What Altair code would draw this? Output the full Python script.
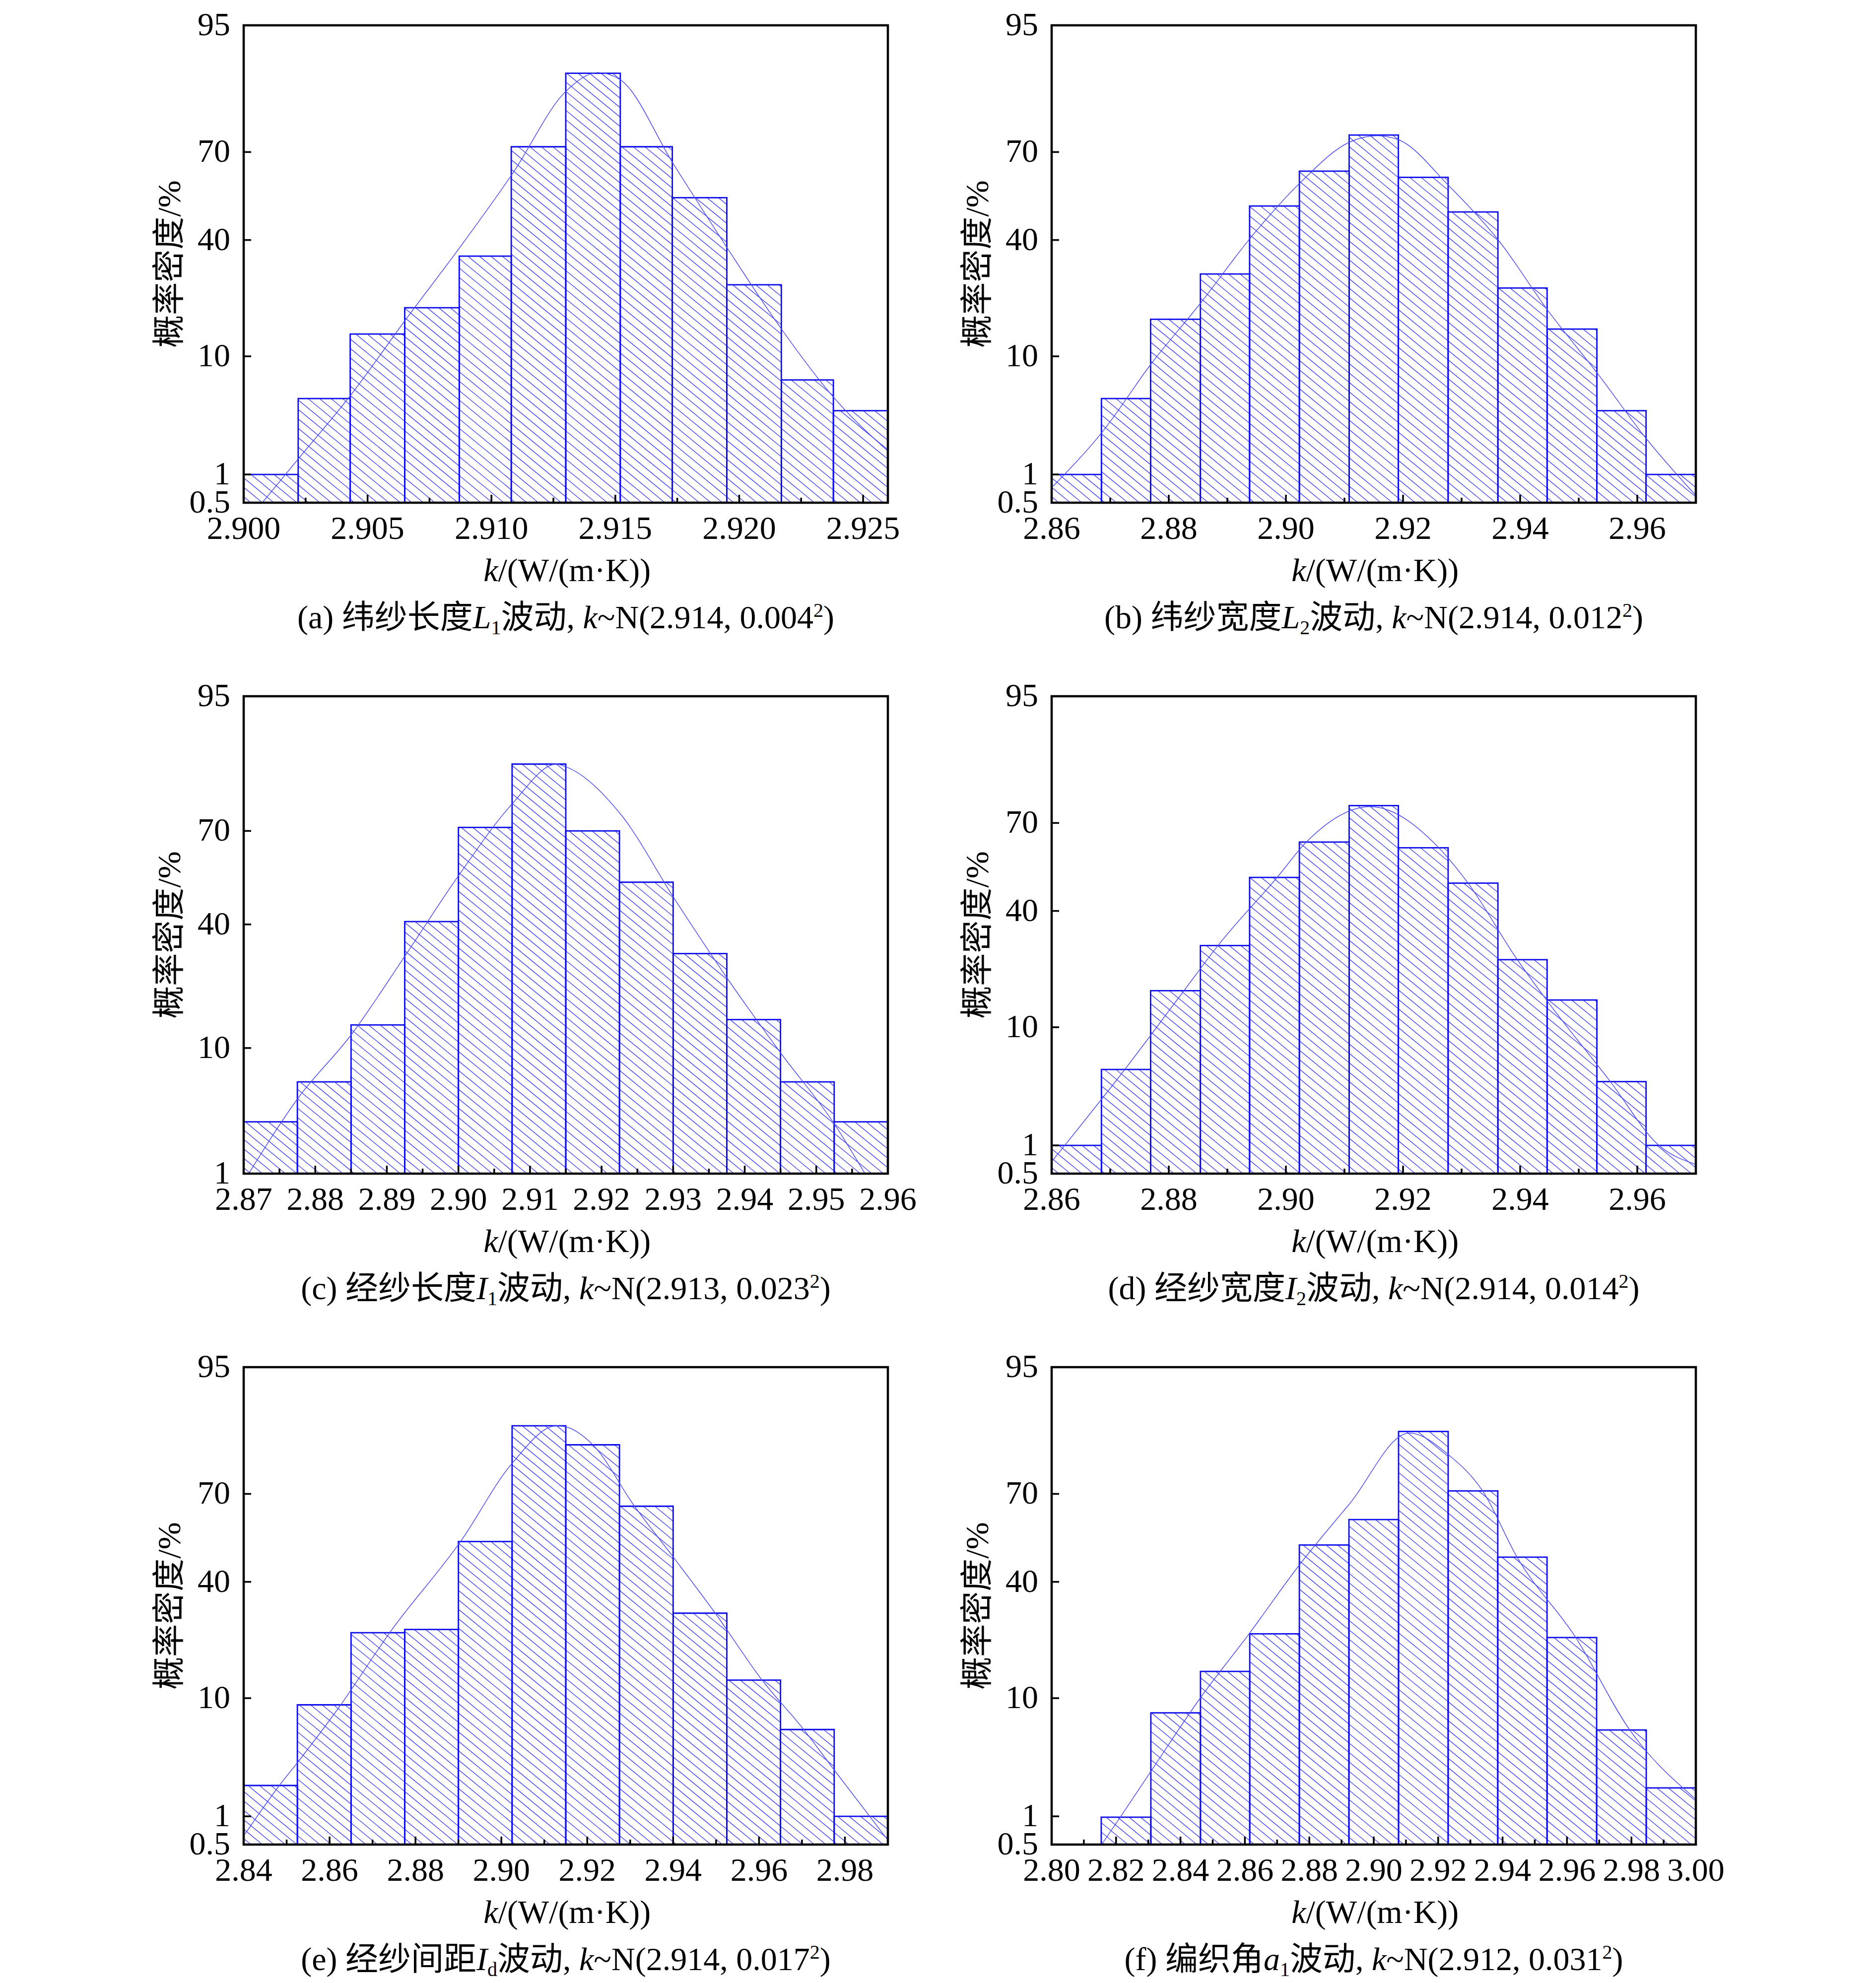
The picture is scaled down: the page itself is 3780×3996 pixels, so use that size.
import altair as alt
import pandas as pd
from statistics import NormalDist

alt.data_transformers.disable_max_rows()
ND = NormalDist()

# ---------------- data ----------------
# (a)
a_edges = [2.9000, 2.9022, 2.9043, 2.9065, 2.9087, 2.9108, 2.9130, 2.9152, 2.9173, 2.9195, 2.9217, 2.9238, 2.9260]
a_density = [1.0, 4.9, 13.9, 19.7, 34.6, 71.6, 88.9, 71.6, 54.8, 25.8, 6.8, 3.9]
a_fit_k = [2.90075, 2.90217, 2.90435, 2.90652, 2.90868, 2.91087, 2.91301, 2.91430, 2.91519, 2.91736, 2.91954, 2.92169, 2.92385, 2.92600]
a_fit_p = [0.5, 1.4, 5.3, 16.8, 37.0, 63.3, 85.6, 89.0, 87.8, 66.0, 37.0, 15.0, 4.9, 1.7]
a_xticks = [2.900, 2.905, 2.910, 2.915, 2.920, 2.925]
a_xminor = [2.9025, 2.9075, 2.9125, 2.9175, 2.9225]
a_xlabels = ["2.900", "2.905", "2.910", "2.915", "2.920", "2.925"]

# (b)
b_edges = [2.8600, 2.8685, 2.8769, 2.8854, 2.8938, 2.9023, 2.9108, 2.9192, 2.9277, 2.9362, 2.9446, 2.9531, 2.9615, 2.9700]
b_density = [1.0, 4.9, 17.0, 29.0, 51.9, 63.9, 75.0, 61.8, 49.8, 24.9, 14.9, 3.9, 1.0]
b_fit_k = [2.8602, 2.8685, 2.8771, 2.8855, 2.8939, 2.9024, 2.9109, 2.9156, 2.9193, 2.9278, 2.9363, 2.9447, 2.9532, 2.9616, 2.9700]
b_fit_p = [0.75, 2.5, 9.0, 21.0, 40.6, 59.9, 73.0, 74.8, 73.6, 59.0, 39.9, 19.1, 7.6, 2.2, 0.6]
b_xticks = [2.86, 2.88, 2.90, 2.92, 2.94, 2.96]
b_xminor = [2.87, 2.89, 2.91, 2.93, 2.95]
b_xlabels = ["2.86", "2.88", "2.90", "2.92", "2.94", "2.96"]

# (c)
c_edges = [2.8700, 2.8775, 2.8850, 2.8925, 2.9000, 2.9075, 2.9150, 2.9225, 2.9300, 2.9375, 2.9450, 2.9525, 2.9600]
c_density = [2.9, 5.9, 13.8, 40.9, 71.0, 86.0, 70.0, 53.9, 31.0, 14.8, 5.9, 2.9]
c_fit_k = [2.8707, 2.8775, 2.8851, 2.8925, 2.9000, 2.9075, 2.9137, 2.9150, 2.9226, 2.9301, 2.9375, 2.9451, 2.9525, 2.9568]
c_fit_p = [1.0, 4.4, 12.2, 30.2, 56.0, 77.3, 86.0, 85.5, 74.8, 48.7, 24.3, 9.2, 2.8, 1.0]
c_xticks = [2.87, 2.88, 2.89, 2.90, 2.91, 2.92, 2.93, 2.94, 2.95, 2.96]
c_xminor = [2.875, 2.885, 2.895, 2.905, 2.915, 2.925, 2.935, 2.945, 2.955]
c_xlabels = ["2.87", "2.88", "2.89", "2.90", "2.91", "2.92", "2.93", "2.94", "2.95", "2.96"]

# (d)
d_edges = [2.8600, 2.8685, 2.8769, 2.8854, 2.8938, 2.9023, 2.9108, 2.9192, 2.9277, 2.9362, 2.9446, 2.9531, 2.9615, 2.9700]
d_density = [1.0, 4.9, 16.9, 28.8, 51.7, 63.9, 75.1, 62.0, 49.7, 24.7, 14.9, 3.9, 1.0]
d_fit_k = [2.8602, 2.8725, 2.8826, 2.8884, 2.8985, 2.9035, 2.9144, 2.9261, 2.9311, 2.9395, 2.9445, 2.9554, 2.9637, 2.9700]
d_fit_p = [0.7, 4.9, 16.9, 28.8, 51.7, 63.9, 74.8, 62.0, 49.7, 24.7, 14.9, 3.9, 1.0, 0.63]
d_xticks = [2.86, 2.88, 2.90, 2.92, 2.94, 2.96]
d_xminor = [2.87, 2.89, 2.91, 2.93, 2.95]
d_xlabels = ["2.86", "2.88", "2.90", "2.92", "2.94", "2.96"]

# (e)
e_edges = [2.8400, 2.8525, 2.8650, 2.8775, 2.8900, 2.9025, 2.9150, 2.9275, 2.9400, 2.9525, 2.9650, 2.9775, 2.9900]
e_density = [2.0, 9.0, 24.1, 25.0, 54.1, 87.0, 83.1, 66.1, 29.8, 13.1, 5.95, 1.0]
e_fit_k = [2.8403, 2.8483, 2.8525, 2.8626, 2.8740, 2.8905, 2.9026, 2.9128, 2.9150, 2.9213, 2.9310, 2.9402, 2.9498, 2.9607, 2.9704, 2.9777, 2.9900]
e_fit_p = [0.65, 2.0, 3.2, 9.0, 24.1, 54.1, 78.8, 87.0, 86.8, 83.1, 66.1, 48.3, 29.8, 13.1, 5.95, 2.7, 0.56]
e_xticks = [2.84, 2.86, 2.88, 2.90, 2.92, 2.94, 2.96, 2.98]
e_xminor = [2.85, 2.87, 2.89, 2.91, 2.93, 2.95, 2.97]
e_xlabels = ["2.84", "2.86", "2.88", "2.90", "2.92", "2.94", "2.96", "2.98"]

# (f)
f_edges = [2.8154, 2.8308, 2.8462, 2.8615, 2.8769, 2.8923, 2.9077, 2.9231, 2.9385, 2.9538, 2.9692, 2.9846, 3.0000]
f_density = [0.98, 7.9, 14.8, 23.8, 52.9, 61.7, 85.9, 70.9, 48.6, 22.8, 5.9, 1.9]
f_fit_k = [2.8160, 2.8213, 2.8307, 2.8461, 2.8613, 2.8768, 2.8925, 2.9110, 2.9232, 2.9338, 2.9445, 2.9627, 2.9795, 3.0000]
f_fit_p = [0.53, 0.98, 2.66, 10.0, 23.8, 45.7, 66.9, 85.6, 80.8, 70.9, 48.6, 22.8, 5.9, 1.48]
f_xticks = [2.80, 2.82, 2.84, 2.86, 2.88, 2.90, 2.92, 2.94, 2.96, 2.98, 3.00]
f_xminor = [2.81, 2.83, 2.85, 2.87, 2.89, 2.91, 2.93, 2.95, 2.97, 2.99]
f_xlabels = ["2.80", "2.82", "2.84", "2.86", "2.88", "2.90", "2.92", "2.94", "2.96", "2.98", "3.00"]

# probability-axis ticks
y_ticks = [0.5, 1, 10, 40, 70, 95]
y_labels = ["0.5", "1", "10", "40", "70", "95"]
y_ticks_c = [1, 10, 40, 70, 95]
y_labels_c = ["1", "10", "40", "70", "95"]

y_title = "概率密度/%"
x_title = [("k", "i"), ("/(W/(m·K))", "n")]

captions = {
    "a": [("(a) 纬纱长度", "n"), ("L", "i"), ("1", "sub"), ("波动, ", "n"), ("k", "i"), ("~N(2.914, 0.004", "n"), ("2", "sup"), (")", "n")],
    "b": [("(b) 纬纱宽度", "n"), ("L", "i"), ("2", "sub"), ("波动, ", "n"), ("k", "i"), ("~N(2.914, 0.012", "n"), ("2", "sup"), (")", "n")],
    "c": [("(c) 经纱长度", "n"), ("I", "i"), ("1", "sub"), ("波动, ", "n"), ("k", "i"), ("~N(2.913, 0.023", "n"), ("2", "sup"), (")", "n")],
    "d": [("(d) 经纱宽度", "n"), ("I", "i"), ("2", "sub"), ("波动, ", "n"), ("k", "i"), ("~N(2.914, 0.014", "n"), ("2", "sup"), (")", "n")],
    "e": [("(e) 经纱间距", "n"), ("I", "i"), ("d", "sub"), ("波动, ", "n"), ("k", "i"), ("~N(2.914, 0.017", "n"), ("2", "sup"), (")", "n")],
    "f": [("(f) 编织角", "n"), ("a", "i"), ("1", "sub"), ("波动, ", "n"), ("k", "i"), ("~N(2.912, 0.031", "n"), ("2", "sup"), (")", "n")],
}

# ---------------- styles ----------------
W, H = 1298, 962
FS = 66
SUB = 40
SERIF = "Liberation Serif, Times New Roman, Noto Sans CJK SC"
BAR_C = "#0c0cee"
HATCH_C = "#4a4af2"
CURVE_C = "#4b4bf5"
HATCH_SLOPE = 0.82
HATCH_STEP = 19.0

REG = {" ": 250, "(": 333, ")": 333, ",": 250, ".": 250, "~": 541, "N": 722, "a": 444, "b": 500,
       "c": 444, "d": 500, "e": 444, "f": 333, "W": 944, "/": 278, "m": 778, "·": 250, "K": 722, "%": 833}
for ch in "0123456789":
    REG[ch] = 500
ITA = {"L": 556, "I": 333, "k": 444, "a": 500, "d": 500}


def zq(p):
    return ND.inv_cdf(p / 100.0)


def text_w(s, st):
    size = SUB if st in ("sub", "sup") else FS
    tot = 0
    for ch in s:
        if ord(ch) > 0x2E80:
            tot += 1000
        elif st == "i":
            tot += ITA.get(ch, REG.get(ch, 500))
        else:
            tot += REG.get(ch, 500)
    return tot * size / 1000.0


def one():
    return alt.Data(values=[{"o": 1}])


def seg_layers(segs, cx, base_y):
    total = sum(text_w(s, st) for s, st in segs)
    x = cx - total / 2.0
    out = []
    for s, st in segs:
        size = SUB if st in ("sub", "sup") else FS
        dy = {"sub": 12, "sup": -23}.get(st, 0)
        out.append(
            alt.Chart(one()).mark_text(
                text=s, font=SERIF, fontSize=size,
                fontStyle="italic" if st == "i" else "normal",
                align="left", baseline="alphabetic", color="black",
            ).encode(x=alt.value(x), y=alt.value(base_y + dy))
        )
        x += text_w(s, st)
    return out


def panel(edges, dens, fit_k, fit_p, pmin, yt, yl, xt, xm, xl, cap, anchor=False):
    kmin, kmax = edges[0], edges[-1]
    kmin = min(kmin, xt[0])
    kmax = max(kmax, xt[-1])
    zmin, zmax = zq(pmin), zq(95)
    xs = alt.Scale(domain=[kmin, kmax], nice=False, zero=False)
    ys = alt.Scale(domain=[zmin, zmax], nice=False, zero=False)

    def px(k):
        return (k - kmin) / (kmax - kmin) * W

    def py(z):
        return (zmax - z) / (zmax - zmin) * H

    def kd(p):
        return kmin + p / W * (kmax - kmin)

    def zd(p):
        return zmax - p / H * (zmax - zmin)

    bars = pd.DataFrame({"k0": edges[:-1], "k1": edges[1:], "zt": [zq(v) for v in dens]})
    bars["zb"] = zmin

    # hatch lines ("\" pattern) derived from each bar's extent
    segs = []
    s = HATCH_SLOPE
    for r in bars.itertuples():
        x0, x1, t, b = px(r.k0) + 1, px(r.k1) - 1, py(r.zt) + 1, H - 1
        if x1 <= x0 or b <= t:
            continue
        cmin = t - s * x1
        cmax = b - s * x0
        c = (int(cmin // HATCH_STEP)) * HATCH_STEP
        while c <= cmax:
            xa = max(x0, (t - c) / s)
            xb = min(x1, (b - c) / s)
            if xb - xa > 0.5:
                segs.append((kd(xa), zd(s * xa + c), kd(xb), zd(s * xb + c)))
            c += HATCH_STEP
    hatch_df = pd.DataFrame(segs, columns=["ka", "za", "kb", "zb"])

    fit = pd.DataFrame({"k": fit_k, "z": [zq(v) for v in fit_p]})
    xt_df = pd.DataFrame({"k": xt, "lab": xl})
    xm_df = pd.DataFrame({"k": xm})
    yt_df = pd.DataFrame({"z": [zq(v) for v in yt], "lab": yl})

    X = lambda f: alt.X(f, scale=xs, axis=None)
    Y = lambda f: alt.Y(f, scale=ys, axis=None)

    layers = [
        alt.Chart(hatch_df).mark_rule(color=HATCH_C, strokeWidth=1.5).encode(
            x=X("ka:Q"), y=Y("za:Q"), x2="kb:Q", y2="zb:Q"),
        alt.Chart(bars).mark_rect(fill="white", fillOpacity=0, stroke=BAR_C, strokeWidth=2.8).encode(
            x=X("k0:Q"), x2="k1:Q", y=Y("zt:Q"), y2="zb:Q"),
        alt.Chart(fit).mark_line(color=CURVE_C, strokeWidth=1.5, interpolate="monotone", clip=True).encode(
            x=X("k:Q"), y=Y("z:Q")),
        alt.Chart(xt_df).mark_rule(color="black", strokeWidth=3.5).encode(
            x=X("k:Q"), y=alt.value(H), y2=alt.value(H - 16)),
        alt.Chart(xm_df).mark_rule(color="black", strokeWidth=3.5).encode(
            x=X("k:Q"), y=alt.value(H), y2=alt.value(H - 10)),
        alt.Chart(yt_df).mark_rule(color="black", strokeWidth=3.5).encode(
            y=Y("z:Q"), x=alt.value(0), x2=alt.value(15)),
        alt.Chart(xt_df).mark_text(font=SERIF, fontSize=FS, align="center", baseline="alphabetic", color="black").encode(
            x=X("k:Q"), y=alt.value(H + 73), text="lab:N"),
        alt.Chart(yt_df).mark_text(font=SERIF, fontSize=FS, align="right", baseline="middle", color="black").encode(
            y=Y("z:Q"), x=alt.value(-27), text="lab:N"),
        alt.Chart(one()).mark_text(text=y_title, font=SERIF, fontSize=FS, angle=270, align="center",
                                   baseline="middle", color="black").encode(
            x=alt.value(-148), y=alt.value(H / 2)),
        alt.Chart(one()).mark_rect(fill="white", fillOpacity=0, stroke="black", strokeWidth=4.5).encode(
            x=alt.value(0), x2=alt.value(W), y=alt.value(0), y2=alt.value(H)),
    ]
    layers += seg_layers(x_title, W / 2, H + 158)
    layers += seg_layers(cap, W / 2, H + 253)
    if anchor:
        layers.append(alt.Chart(one()).mark_point(size=1, opacity=0, filled=True).encode(
            x=alt.value(-482), y=alt.value(-30)))
    return alt.layer(*layers).properties(width=W, height=H)


pa = panel(a_edges, a_density, a_fit_k, a_fit_p, 0.5, y_ticks, y_labels, a_xticks, a_xminor, a_xlabels, captions["a"], anchor=True)
pb = panel(b_edges, b_density, b_fit_k, b_fit_p, 0.5, y_ticks, y_labels, b_xticks, b_xminor, b_xlabels, captions["b"])
pc = panel(c_edges, c_density, c_fit_k, c_fit_p, 1.0, y_ticks_c, y_labels_c, c_xticks, c_xminor, c_xlabels, captions["c"])
pd_ = panel(d_edges, d_density, d_fit_k, d_fit_p, 0.5, y_ticks, y_labels, d_xticks, d_xminor, d_xlabels, captions["d"])
pe = panel(e_edges, e_density, e_fit_k, e_fit_p, 0.5, y_ticks, y_labels, e_xticks, e_xminor, e_xlabels, captions["e"])
pf = panel(f_edges, f_density, f_fit_k, f_fit_p, 0.5, y_ticks, y_labels, f_xticks, f_xminor, f_xlabels, captions["f"])

chart = alt.concat(
    pa, pb, pc, pd_, pe, pf,
    columns=2,
    spacing=alt.RowColnumber(row=390, column=330),
    bounds="flush",
).properties(
    padding={"top": 10, "left": 0, "right": 0, "bottom": 0},
    background="white",
).configure_view(stroke=None)

chart.save("out.html", embed_options={"renderer": "svg", "actions": False})
